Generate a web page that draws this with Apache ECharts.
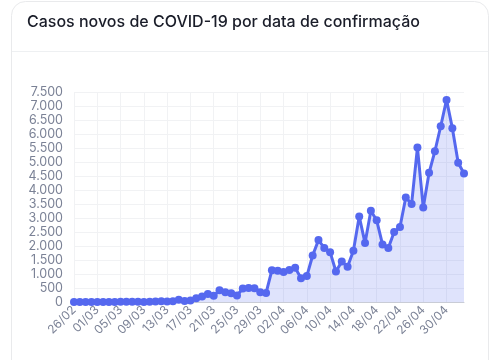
<!DOCTYPE html>
<html><head><meta charset="utf-8">
<script src="https://cdn.jsdelivr.net/npm/echarts@6/dist/echarts.min.js"></script>
<style>html,body{margin:0;padding:0;background:#fff}#c{width:499px;height:360px}</style>
</head><body><div id="c"></div>
<script>
const titleText = 'Casos novos de COVID-19 por data de confirmação';
const dates = ['26/02','27/02','28/02','29/02',
'01/03','02/03','03/03','04/03','05/03','06/03','07/03','08/03','09/03','10/03','11/03','12/03','13/03','14/03','15/03','16/03','17/03','18/03','19/03','20/03','21/03','22/03','23/03','24/03','25/03','26/03','27/03','28/03','29/03','30/03','31/03',
'01/04','02/04','03/04','04/04','05/04','06/04','07/04','08/04','09/04','10/04','11/04','12/04','13/04','14/04','15/04','16/04','17/04','18/04','19/04','20/04','21/04','22/04','23/04','24/04','25/04','26/04','27/04','28/04','29/04','30/04',
'01/05','02/05','03/05'];
const newCases = [1,0,0,1,
0,0,0,1,5,5,6,6,0,9,18,25,21,23,79,34,57,137,193,283,224,418,345,310,232,482,502,487,352,323,1138,
1119,1074,1146,1222,852,926,1661,2210,1930,1781,1089,1442,1261,1832,3058,2105,3257,2917,2055,1927,2498,2678,3735,3503,5514,3379,4613,5385,6276,7218,
6209,4970,4588];
const yTicks = [0,500,1000,1500,2000,2500,3000,3500,4000,4500,5000,5500,6000,6500,7000,7500];

const chart = echarts.init(document.getElementById('c'), null, {renderer:'canvas'});
const fmt = v => String(v).replace(/\B(?=(\d{3})+(?!\d))/g, '.');
chart.setOption({
  animation:false,
  backgroundColor:'#fff',
  graphic:[
    {type:'rect', shape:{x:11.5,y:1.5,width:477,height:420,r:14}, style:{fill:'#fff',stroke:'#e9eaec',lineWidth:1}, z:-10},
    {type:'line', shape:{x1:12,y1:51.5,x2:488,y2:51.5}, style:{stroke:'#eef0f2',lineWidth:1}, z:-9},
    {type:'text', left:27, top:14, style:{text:titleText, font:'500 16px Inter', fill:'#1a1d29'}}
  ],
  grid:{left:74, right:35, top:92, bottom:58},
  xAxis:{
    type:'category', data:dates, boundaryGap:false,
    axisLine:{lineStyle:{color:'#c9ccd6'}},
    axisTick:{show:false},
    axisLabel:{interval:3, rotate:45, color:'#7b8296', fontFamily:'Inter', fontSize:12, margin:6},
    splitLine:{show:true, interval:3, lineStyle:{color:'#f1f2f4'}}
  },
  yAxis:{
    type:'value', min:yTicks[0], max:yTicks[yTicks.length-1], interval:500,
    axisLine:{show:false}, axisTick:{show:false},
    axisLabel:{color:'#7b8296', fontFamily:'Inter', fontSize:12.5, margin:11, formatter:fmt},
    splitLine:{lineStyle:{color:'#f1f2f4'}}
  },
  series:[{
    type:'line', data:newCases,
    symbol:'circle', symbolSize:8, showSymbol:true, showAllSymbol:true,
    lineStyle:{color:'#5568ef', width:3},
    itemStyle:{color:'#5568ef'},
    areaStyle:{color:'rgba(85,104,239,0.27)'}
  }]
});
</script></body></html>
